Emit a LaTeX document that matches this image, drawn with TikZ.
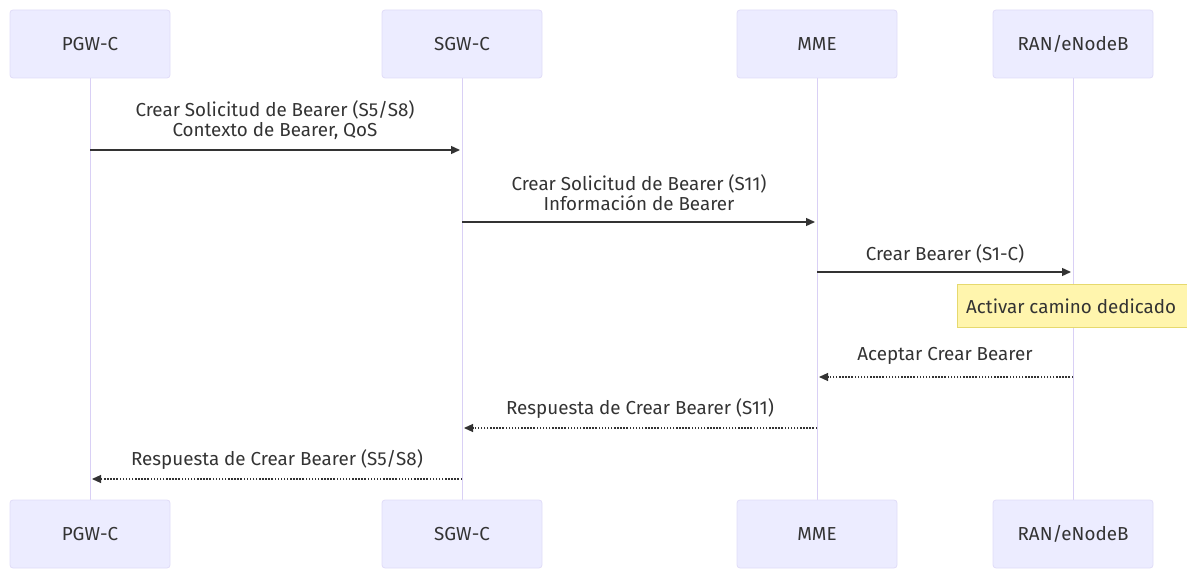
\documentclass[tikz,border=0pt]{standalone}
\usepackage{fontspec}
\setmainfont{Fira Sans}
\usetikzlibrary{arrows.meta}
\definecolor{actfill}{HTML}{ECECFF}
\definecolor{actline}{HTML}{E0DCF8}
\definecolor{lifeline}{HTML}{D9D0F5}
\definecolor{txt}{HTML}{333333}
\definecolor{notefill}{HTML}{FFF5AD}
\definecolor{noteline}{HTML}{E6D96E}
\tikzset{
  actor/.style={draw=actline, fill=actfill, rounded corners=3pt, minimum width=160pt, minimum height=68pt, text=txt, font=\fontsize{18.8}{20}\selectfont, line width=0.8pt},
  life/.style={draw=lifeline, line width=1pt},
  msg/.style={draw=txt, line width=1.4pt, -{Triangle[length=9pt,width=8pt]}},
  reply/.style={draw=txt, line width=1.1pt, dash pattern=on 1.5pt off 1.6pt, -{Triangle[length=9pt,width=8pt]}},
  lbl/.style={text=txt, font=\fontsize{18.8}{20}\selectfont, align=center, inner sep=0pt},
  notebox/.style={draw=noteline, fill=notefill, text=txt, inner sep=0pt, anchor=north west}
}
\begin{document}
\begin{tikzpicture}[x=1pt,y=-1pt]
\useasboundingbox (0,0) rectangle (1187,569);
\clip (0,0) rectangle (1187,569);
% lifelines
\coordinate (pT) at (90,78); \coordinate (pB) at (90,500);
\coordinate (sT) at (462,78); \coordinate (sB) at (462,500);
\coordinate (mT) at (817,78); \coordinate (mB) at (817,500);
\coordinate (rT) at (1073,78); \coordinate (rB) at (1073,500);
\draw[life] (pT) -- (pB);
\draw[life] (sT) -- (sB);
\draw[life] (mT) -- (mB);
\draw[life] (rT) -- (rB);
% actors
\node[actor] (p1) at (90,44) {PGW-C};
\node[actor] (s1) at (462,44) {SGW-C};
\node[actor] (m1) at (817,44) {MME};
\node[actor] (r1) at (1073,44) {RAN/eNodeB};
\node[actor] (p2) at (90,534) {PGW-C};
\node[actor] (s2) at (462,534) {SGW-C};
\node[actor] (m2) at (817,534) {MME};
\node[actor] (r2) at (1073,534) {RAN/eNodeB};
% message endpoints
\coordinate (a1) at (90,150); \coordinate (b1) at (460,150);
\coordinate (a2) at (462,222); \coordinate (b2) at (815,222);
\coordinate (a3) at (817,272); \coordinate (b3) at (1071,272);
\coordinate (a4) at (1073,377); \coordinate (b4) at (819,377);
\coordinate (a5) at (817,428); \coordinate (b5) at (464,428);
\coordinate (a6) at (462,479); \coordinate (b6) at (92,479);
\draw[msg] (a1) -- (b1);
\draw[msg] (a2) -- (b2);
\draw[msg] (a3) -- (b3);
\draw[reply] (a4) -- (b4);
\draw[reply] (a5) -- (b5);
\draw[reply] (a6) -- (b6);
% labels
\node[lbl] (l1) at (275,120) {Crear Solicitud de Bearer (S5/S8)\\Contexto de Bearer, QoS};
\node[lbl] (l2) at (639,193) {Crear Solicitud de Bearer (S11)\\Información de Bearer};
\node[lbl] (l3) at (945,254) {Crear Bearer (S1-C)};
\node[lbl] (l4) at (945,356) {Aceptar Crear Bearer};
\node[lbl] (l5) at (640,409) {Respuesta de Crear Bearer (S11)};
\node[lbl] (l6) at (277,460) {Respuesta de Crear Bearer (S5/S8)};
% note
\node[notebox, minimum width=240pt, minimum height=43pt] (n1) at (957,284) {};
\node[lbl, anchor=west] (n1t) at (966,306) {Activar camino dedicado};
\end{tikzpicture}
\end{document}
